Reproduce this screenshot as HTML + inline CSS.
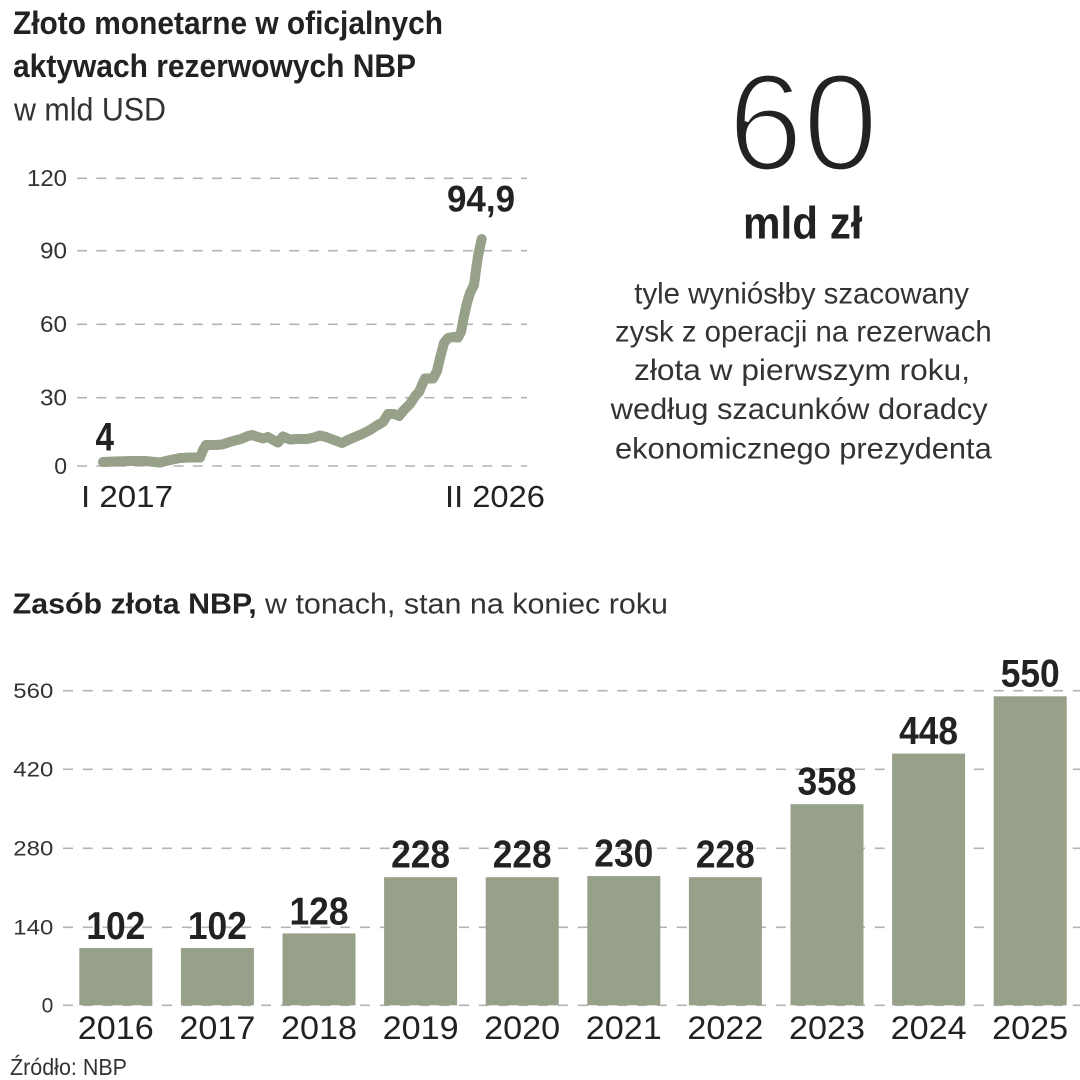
<!DOCTYPE html>
<html>
<head>
<meta charset="utf-8">
<style>
  html, body { margin: 0; padding: 0; background: #ffffff; }
  svg { display: block; }
  text { font-family: "Liberation Sans", "DejaVu Sans", sans-serif; }
</style>
</head>
<body>
<svg width="1080" height="1080" viewBox="0 0 1080 1080" xmlns="http://www.w3.org/2000/svg">
  <rect width="1080" height="1080" fill="#ffffff"/>

  <!-- ===== Title top-left ===== -->
  <text x="13" y="34" font-size="32" font-weight="bold" fill="#222" textLength="430" lengthAdjust="spacingAndGlyphs">Złoto monetarne w oficjalnych</text>
  <text x="13" y="77" font-size="32" font-weight="bold" fill="#222" textLength="403" lengthAdjust="spacingAndGlyphs">aktywach rezerwowych NBP</text>
  <text x="14" y="120.5" font-size="32" fill="#333" textLength="152" lengthAdjust="spacingAndGlyphs">w mld USD</text>

  <!-- ===== Line chart gridlines ===== -->
  <g stroke="#b3b3b3" stroke-width="1.6" stroke-dasharray="10 9.3">
    <line x1="77" y1="178.3" x2="527" y2="178.3"/>
    <line x1="77" y1="250.7" x2="527" y2="250.7"/>
    <line x1="77" y1="324.3" x2="527" y2="324.3"/>
    <line x1="77" y1="397.7" x2="527" y2="397.7"/>
    <line x1="77" y1="466" x2="527" y2="466"/>
  </g>
  <g font-size="23" fill="#333" text-anchor="end">
    <text x="67" y="186" textLength="40" lengthAdjust="spacingAndGlyphs">120</text>
    <text x="67" y="258.5" textLength="27" lengthAdjust="spacingAndGlyphs">90</text>
    <text x="67" y="332" textLength="27" lengthAdjust="spacingAndGlyphs">60</text>
    <text x="67" y="405.5" textLength="27" lengthAdjust="spacingAndGlyphs">30</text>
    <text x="67" y="474">0</text>
  </g>

  <!-- line series -->
  <polyline fill="none" stroke="#97a088" stroke-width="10" stroke-linecap="round" stroke-linejoin="round"
    points="103,462 115,461.5 130,461 145,461 160,462.5 168,460.5 180,458 190,457.5 200,457.5
            203,450 206,445 215,445 222,444.5 233,441 241,439 248,436 252,435
            258,437 263,438.5 268,437 273,440 278,442.5 283,436.5 290,439.5 297,439 307,439 314,437.5 320,435.5 326,437 334,440 342,443
            348,440 355,437 362,434 370,430 376,426 383,422 388,414 394,414 399,416 404,410 410,404 416,395 419,392 422,385 425,378.5 433,378.5
            437,371 440,358 444,343 448,338 453,337 458,337.5 461,332 464,316 467,303 470,293 474,285 476,270 478,256 481.7,239"/>

  <text x="95.5" y="450.7" font-size="40" font-weight="bold" fill="#222" textLength="18.5" lengthAdjust="spacingAndGlyphs">4</text>
  <text x="447" y="211.7" font-size="37" font-weight="bold" fill="#222" textLength="68" lengthAdjust="spacingAndGlyphs">94,9</text>
  <text x="81" y="507" font-size="31" fill="#222" textLength="92" lengthAdjust="spacingAndGlyphs">I 2017</text>
  <text x="445" y="507" font-size="31" fill="#222" textLength="100" lengthAdjust="spacingAndGlyphs">II 2026</text>

  <!-- ===== Right block ===== -->
  <text x="728" y="170" font-size="138" fill="#222" stroke="#ffffff" stroke-width="4" textLength="150" lengthAdjust="spacingAndGlyphs">60</text>
  <text x="743" y="238.3" font-size="45" font-weight="bold" fill="#222" textLength="119.5" lengthAdjust="spacingAndGlyphs">mld zł</text>
  <g font-size="30" fill="#333">
    <text x="634.3" y="303.3" textLength="334.7" lengthAdjust="spacingAndGlyphs">tyle wyniósłby szacowany</text>
    <text x="615" y="341.7" textLength="376.7" lengthAdjust="spacingAndGlyphs">zysk z operacji na rezerwach</text>
    <text x="634" y="380" textLength="336" lengthAdjust="spacingAndGlyphs">złota w pierwszym roku,</text>
    <text x="610.7" y="419" textLength="377" lengthAdjust="spacingAndGlyphs">według szacunków doradcy</text>
    <text x="615" y="458.3" textLength="376.7" lengthAdjust="spacingAndGlyphs">ekonomicznego prezydenta</text>
  </g>

  <!-- ===== Bar chart title ===== -->
  <text x="12.7" y="613.3" font-size="29" font-weight="bold" fill="#222" textLength="244" lengthAdjust="spacingAndGlyphs">Zasób złota NBP,</text>
  <text x="265" y="613.3" font-size="29" fill="#333" textLength="403" lengthAdjust="spacingAndGlyphs">w tonach, stan na koniec roku</text>

  <!-- bar gridlines -->
  <g stroke="#b3b3b3" stroke-width="1.6" stroke-dasharray="10 9.8">
    <line x1="63" y1="690.7" x2="1080" y2="690.7"/>
    <line x1="63" y1="769.3" x2="1080" y2="769.3"/>
    <line x1="63" y1="848.3" x2="1080" y2="848.3"/>
    <line x1="63" y1="927.3" x2="1080" y2="927.3"/>
    <line x1="63" y1="1005.3" x2="1080" y2="1005.3"/>
  </g>
  <g font-size="21" fill="#333" text-anchor="end">
    <text x="53.3" y="698" textLength="40" lengthAdjust="spacingAndGlyphs">560</text>
    <text x="53.3" y="776.6" textLength="40" lengthAdjust="spacingAndGlyphs">420</text>
    <text x="53.3" y="855.6" textLength="40" lengthAdjust="spacingAndGlyphs">280</text>
    <text x="53.3" y="934.6" textLength="40" lengthAdjust="spacingAndGlyphs">140</text>
    <text x="53.3" y="1012.6">0</text>
  </g>

  <!-- bars -->
  <g fill="#97a088">
    <rect x="79.3"  y="948"   width="73" height="57.3"/>
    <rect x="180.9" y="948"   width="73" height="57.3"/>
    <rect x="282.5" y="933.4" width="73" height="71.9"/>
    <rect x="384.1" y="877.2" width="73" height="128.1"/>
    <rect x="485.7" y="877.2" width="73" height="128.1"/>
    <rect x="587.3" y="876.1" width="73" height="129.2"/>
    <rect x="688.9" y="877.2" width="73" height="128.1"/>
    <rect x="790.5" y="804.2" width="73" height="201.1"/>
    <rect x="892.1" y="753.6" width="73" height="251.7"/>
    <rect x="993.7" y="696.3" width="73" height="309"/>
  </g>

  <!-- value labels -->
  <g font-size="39" font-weight="bold" fill="#222" text-anchor="middle">
    <text x="115.8" y="939"   textLength="59" lengthAdjust="spacingAndGlyphs">102</text>
    <text x="217.4" y="939"   textLength="59" lengthAdjust="spacingAndGlyphs">102</text>
    <text x="319"   y="924.3" textLength="59" lengthAdjust="spacingAndGlyphs">128</text>
    <text x="420.6" y="867.5" textLength="59" lengthAdjust="spacingAndGlyphs">228</text>
    <text x="522.2" y="867.5" textLength="59" lengthAdjust="spacingAndGlyphs">228</text>
    <text x="623.8" y="866.4" textLength="59" lengthAdjust="spacingAndGlyphs">230</text>
    <text x="725.4" y="867.5" textLength="59" lengthAdjust="spacingAndGlyphs">228</text>
    <text x="827"   y="794.5" textLength="59" lengthAdjust="spacingAndGlyphs">358</text>
    <text x="928.6" y="744"   textLength="59" lengthAdjust="spacingAndGlyphs">448</text>
    <text x="1030.2" y="686.7" textLength="59" lengthAdjust="spacingAndGlyphs">550</text>
  </g>

  <!-- year labels -->
  <g font-size="32" fill="#222" text-anchor="middle">
    <text x="115.8" y="1039" textLength="76" lengthAdjust="spacingAndGlyphs">2016</text>
    <text x="217.4" y="1039" textLength="76" lengthAdjust="spacingAndGlyphs">2017</text>
    <text x="319"   y="1039" textLength="76" lengthAdjust="spacingAndGlyphs">2018</text>
    <text x="420.6" y="1039" textLength="76" lengthAdjust="spacingAndGlyphs">2019</text>
    <text x="522.2" y="1039" textLength="76" lengthAdjust="spacingAndGlyphs">2020</text>
    <text x="623.8" y="1039" textLength="76" lengthAdjust="spacingAndGlyphs">2021</text>
    <text x="725.4" y="1039" textLength="76" lengthAdjust="spacingAndGlyphs">2022</text>
    <text x="827"   y="1039" textLength="76" lengthAdjust="spacingAndGlyphs">2023</text>
    <text x="928.6" y="1039" textLength="76" lengthAdjust="spacingAndGlyphs">2024</text>
    <text x="1030.2" y="1039" textLength="76" lengthAdjust="spacingAndGlyphs">2025</text>
  </g>

  <!-- source -->
  <text x="10" y="1075" font-size="23" fill="#333" textLength="117" lengthAdjust="spacingAndGlyphs">Źródło: NBP</text>
</svg>
</body>
</html>
